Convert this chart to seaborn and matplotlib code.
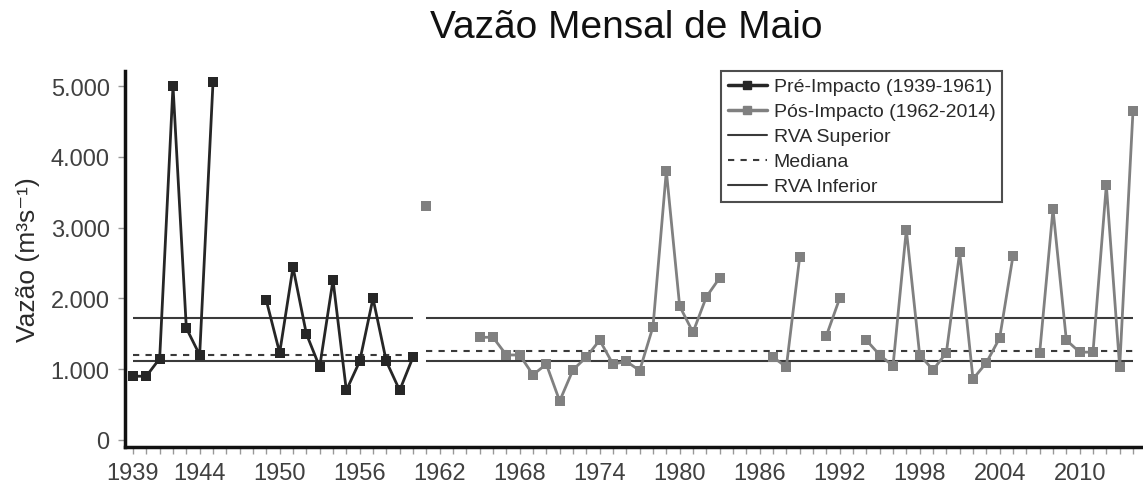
import numpy as np
import pandas as pd
import matplotlib
matplotlib.use("Agg")
import matplotlib.pyplot as plt
from matplotlib.lines import Line2D
import seaborn as sns

# ---- data ----
pre_years = list(range(1939, 1961))
pre_vals = [900, 900, 1150, 5000, 1580, 1200, 5050, np.nan, np.nan, np.nan,
            1970, 1230, 2440, 1500, 1030, 2260, 700, 1110, 2000, 1110, 700, 1170]

post_years = list(range(1961, 2015))
post_vals = [3300, np.nan, np.nan, np.nan, 1450, 1450, 1200, 1200, 920, 1070,
             550, 990, 1170, 1410, 1070, 1110, 980, 1600, 3800, 1890,
             1520, 2020, 2290, np.nan, np.nan, np.nan, 1170, 1030, 2580, np.nan,
             1470, 2000, np.nan, 1410, 1200, 1045, 2970, 1200, 990, 1230,
             2650, 860, 1090, 1440, 2600, np.nan, 1230, 3260, 1410, 1240,
             1240, 3600, 1030, 4650]

pre_span = (1939, 1960)
post_span = (1961, 2014)
pre_rva = {"sup": 1727, "med": 1200, "inf": 1111}
post_rva = {"sup": 1727, "med": 1253, "inf": 1111}

xtick_labels = [1939, 1944, 1950, 1956, 1962, 1968, 1974, 1980, 1986, 1992, 1998, 2004, 2010]
ytick_vals = [0, 1000, 2000, 3000, 4000, 5000]

title = "Vazão Mensal de Maio"
ylabel = "Vazão (m³s⁻¹)"
leg_labels = ["Pré-Impacto (1939-1961)", "Pós-Impacto (1962-2014)",
              "RVA Superior", "Mediana", "RVA Inferior"]

# ---- styling ----
sns.set_theme(style="white")
plt.rcParams['font.family'] = ['Liberation Sans', 'DejaVu Sans']

BLACK = "#262626"
GREY = "#808080"
LINEC = "#3a3a3a"
TXT = "#404040"


def to_frame(years, vals):
    df = pd.DataFrame({"year": years, "value": vals})
    df["seg"] = df["value"].isna().cumsum()
    return df.dropna()


fig = plt.figure(figsize=(11.43, 4.89), dpi=100)
ax = fig.add_axes([125 / 1143, 1 - 448 / 489, 1 - 125 / 1143, (448 - 72) / 489])

df_pre = to_frame(pre_years, pre_vals)
df_post = to_frame(post_years, post_vals)

sns.lineplot(data=df_post, x="year", y="value", units="seg", estimator=None,
             color=GREY, lw=2, marker="s", markersize=7.3, markeredgewidth=0,
             ax=ax, legend=False, zorder=3)
sns.lineplot(data=df_pre, x="year", y="value", units="seg", estimator=None,
             color=BLACK, lw=2, marker="s", markersize=7.3, markeredgewidth=0,
             ax=ax, legend=False, zorder=3)

for span, rva in ((pre_span, pre_rva), (post_span, post_rva)):
    ax.hlines(rva["sup"], span[0], span[1], color=LINEC, lw=1.5, zorder=2)
    ax.hlines(rva["inf"], span[0], span[1], color=LINEC, lw=1.5, zorder=2)
    ax.hlines(rva["med"], span[0], span[1], color=LINEC, lw=1.5,
              linestyles=(0, (3, 3)), zorder=2)

ax.set_xlim(1938.4, 2014.75)
ax.set_ylim(-100, 5212)
ax.set_xticks(xtick_labels)
ax.set_xticks(range(1939, 2015), minor=True)
ax.set_xticklabels([str(v) for v in xtick_labels])
ax.set_yticks(ytick_vals)
ax.set_yticklabels([f"{v:,}".replace(",", ".") for v in ytick_vals])

ax.tick_params(axis="both", which="both", direction="out", length=5, width=1,
               color="#999999", labelsize=17, labelcolor=TXT,
               bottom=True, left=True)
ax.tick_params(axis="x", which="both", pad=6)
ax.tick_params(axis="y", which="both", pad=6)

for s in ("top", "right"):
    ax.spines[s].set_visible(False)
for s in ("left", "bottom"):
    ax.spines[s].set_color("#111111")
    ax.spines[s].set_linewidth(2.5)

ax.set_xlabel("")
ax.set_ylabel(ylabel, fontsize=19, color="#2a2a2a", labelpad=8)

fig.text(626 / 1143, 1 - 38 / 489, title, ha="center", va="baseline",
         fontsize=28, color="#111111")

handles = [
    Line2D([], [], color=BLACK, lw=2.5, marker="s", markersize=5.5),
    Line2D([], [], color=GREY, lw=2.5, marker="s", markersize=5.5),
    Line2D([], [], color=LINEC, lw=1.5),
    Line2D([], [], color=LINEC, lw=1.5, ls=(0, (3, 3))),
    Line2D([], [], color=LINEC, lw=1.5),
]
leg = ax.legend(handles, leg_labels, loc="upper left",
                bbox_to_anchor=((721 - 125) / 1018, 1.0),
                fontsize=14, frameon=True, fancybox=False, edgecolor="#222222",
                handlelength=2.0, handletextpad=0.35, labelspacing=0.38,
                borderpad=0.35, borderaxespad=0)
leg.get_frame().set_linewidth(1.5)
for t in leg.get_texts():
    t.set_color("#2a2a2a")

fig.savefig("out.png", dpi=100)
